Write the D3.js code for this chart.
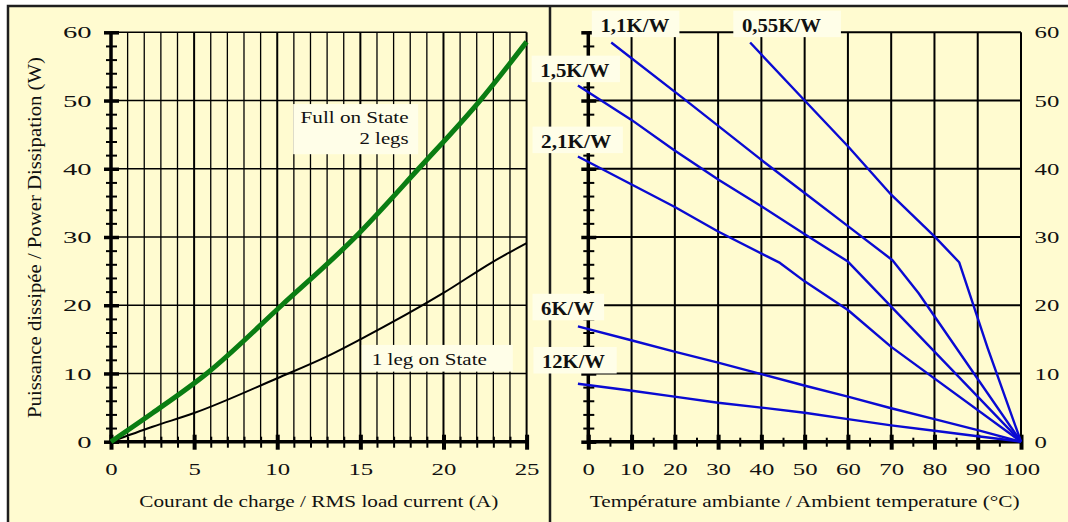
<!DOCTYPE html>
<html lang="en">
<head>
    <meta charset="UTF-8">
    <title>Power Dissipation</title>
    <script src="https://d3js.org/d3.v7.min.js"></script>
    <style>
        body { margin: 0; background: #fff; }
        svg { display: block; }
    </style>
</head>
<body>
<div id="chart"></div>
<script>
    // left panel : power vs RMS load current
    var fullOnCurrent = [0, 2.5, 5.76, 10.27, 14.7, 18.5, 22.2, 25];
    var fullOnPower   = [0, 4.2, 10, 20, 30, 40, 50, 58.6];
    var oneLegCurrent = [0, 2.5, 5, 10, 13, 15, 20, 23, 25];
    var oneLegPower   = [0, 2.2, 4.2, 9.3, 12.5, 15.0, 21.8, 26.4, 29.1];

    // right panel : power vs ambient temperature, one line per heatsink
    var rthNames = ["0,55K/W", "1,1K/W", "1,5K/W", "2,1K/W", "6K/W", "12K/W"];
    var rthTemp = [
        [37.4, 50, 60, 70, 80, 85.7, 92.3, 100],
        [5.3, 22.4, 40, 50.3, 60, 70.3, 76.3, 100],
        [-2.4, 9.9, 19.7, 30.1, 40, 50.3, 60, 100],
        [-2.4, 20, 30, 44.3, 50, 60, 70, 100],
        [-2.4, 9.7, 19.9, 30, 40, 50.1, 60, 70, 80, 90, 100],
        [-2.4, 9.7, 19.9, 30, 40, 50, 60, 70, 80, 90, 100]
    ];
    var rthPower = [
        [58.5, 50, 43.3, 36.2, 30.1, 26.3, 13.7, 0],
        [58.5, 50.1, 41.3, 36.3, 31.6, 26.6, 21.8, 0],
        [52.2, 47.2, 42.8, 38.4, 34.5, 30.3, 26.4, 0],
        [41.8, 34.4, 30.8, 26.2, 23.5, 19.3, 13.9, 0],
        [16.9, 14.9, 13.2, 11.6, 9.9, 8.2, 6.6, 4.9, 3.3, 1.7, 0],
        [8.5, 7.5, 6.6, 5.7, 5.0, 4.25, 3.3, 2.4, 1.6, 0.8, 0]
    ];

    // tick values
    var powerTicks = [0, 10, 20, 30, 40, 50, 60];
    var currentTicks = [0, 5, 10, 15, 20, 25];
    var tempTicks = [0, 10, 20, 30, 40, 50, 60, 70, 80, 90, 100];

    var W = 1068, H = 522;
    var serif = "'Liberation Serif', 'Times New Roman', Times, serif";
    var bg = "#fffbd0", boxFill = "#fffee8";

    var svg = d3.select("#chart").append("svg")
        .attr("width", W).attr("height", H);

    svg.append("rect").attr("x", 8).attr("y", 6).attr("width", W - 8).attr("height", H - 6).attr("fill", bg);

    var xL = d3.scaleLinear().domain([0, 25]).range([111, 526.6]);
    var xR = d3.scaleLinear().domain([0, 100]).range([588.3, 1021]);
    var y = d3.scaleLinear().domain([0, 60]).range([441.7, 32.3]);

    // the scan is stretched sideways : force text widths
    function fit(sel, len) {
        sel.attr("textLength", len).attr("lengthAdjust", "spacingAndGlyphs");
    }

    // grids
    var grid = svg.append("g").attr("stroke", "#000");
    grid.selectAll(".vl").data(d3.range(1, 26)).enter().append("line")
        .attr("x1", d => xL(d)).attr("x2", d => xL(d))
        .attr("y1", y(0)).attr("y2", y(60))
        .attr("stroke-width", d => d % 5 === 0 ? 2 : 1.3);
    grid.selectAll(".hl").data(powerTicks.slice(1)).enter().append("line")
        .attr("x1", xL(0)).attr("x2", xL(25))
        .attr("y1", d => y(d)).attr("y2", d => y(d))
        .attr("stroke-width", 1.5);
    grid.selectAll(".vr").data(tempTicks.slice(1)).enter().append("line")
        .attr("x1", d => xR(d)).attr("x2", d => xR(d))
        .attr("y1", y(0)).attr("y2", y(60))
        .attr("stroke-width", 2);
    grid.selectAll(".hr").data(powerTicks.slice(1)).enter().append("line")
        .attr("x1", xR(0)).attr("x2", xR(100))
        .attr("y1", d => y(d)).attr("y2", d => y(d))
        .attr("stroke-width", 2);

    // frame and divider
    svg.append("path").attr("d", "M8," + H + "V6H" + W + "M550,6V" + H)
        .attr("fill", "none").attr("stroke", "#1e1e1e").attr("stroke-width", 2.5);

    // axes helpers
    function ticksAcross(g, vertical, a, b, w) {
        g.select(".domain").remove();
        g.selectAll(".tick line")
            .attr(vertical ? "x1" : "y1", a).attr(vertical ? "x2" : "y2", b)
            .attr("stroke", "#000").attr("stroke-width", w);
    }
    function styleText(g, perChar) {
        g.attr("font-family", serif).attr("font-size", 17.5);
        g.selectAll(".tick text").attr("fill", "#111").each(function(d) {
            fit(d3.select(this), String(d).length * perChar);
        });
    }

    // left panel y axis
    svg.append("g").attr("transform", "translate(" + xL(0) + ",0)")
        .call(d3.axisLeft(y).tickValues(d3.range(0, 61, 2)).tickSize(0).tickFormat(""))
        .call(g => ticksAcross(g, true, -5, 6, 2));
    svg.append("g").attr("transform", "translate(" + xL(0) + ",0)")
        .call(d3.axisLeft(y).tickValues(powerTicks).tickSize(0).tickPadding(19.5))
        .call(g => ticksAcross(g, true, -7, 8, 3.5))
        .call(g => styleText(g, 14.3));

    // left panel x axis
    svg.append("g").attr("transform", "translate(0," + y(0) + ")")
        .call(d3.axisBottom(xL).tickValues(d3.range(0, 26)).tickSize(0).tickFormat(""))
        .call(g => ticksAcross(g, false, -5, 6, 2));
    svg.append("g").attr("transform", "translate(0," + y(0) + ")")
        .call(d3.axisBottom(xL).tickValues(currentTicks).tickSize(0))
        .call(g => ticksAcross(g, false, -7, 8, 4))
        .call(g => g.selectAll(".tick text").attr("y", 33.3).attr("dy", 0))
        .call(g => styleText(g, 12.4));

    // right panel y axis (ticks at left, labels at right)
    svg.append("g").attr("transform", "translate(" + xR(0) + ",0)")
        .call(d3.axisLeft(y).tickValues(d3.range(0, 61, 2)).tickSize(0).tickFormat(""))
        .call(g => ticksAcross(g, true, -5, 6, 2));
    svg.append("g").attr("transform", "translate(" + xR(0) + ",0)")
        .call(d3.axisLeft(y).tickValues(powerTicks).tickSize(0).tickFormat(""))
        .call(g => ticksAcross(g, true, -7, 8, 3.5));
    svg.append("g").attr("transform", "translate(" + xR(100) + ",0)")
        .call(d3.axisRight(y).tickValues(powerTicks).tickSize(0).tickPadding(13.5))
        .call(g => g.select(".domain").remove())
        .call(g => styleText(g, 12.4));

    // right panel x axis
    svg.append("g").attr("transform", "translate(0," + y(0) + ")")
        .call(d3.axisBottom(xR).tickValues(d3.range(0, 101, 5)).tickSize(0).tickFormat(""))
        .call(g => ticksAcross(g, false, -4, 5, 2));
    svg.append("g").attr("transform", "translate(0," + y(0) + ")")
        .call(d3.axisBottom(xR).tickValues(tempTicks).tickSize(0))
        .call(g => ticksAcross(g, false, -7, 8, 4))
        .call(g => g.selectAll(".tick text").attr("y", 33.3).attr("dy", 0))
        .call(g => styleText(g, 12.4));

    // axis lines
    svg.append("path")
        .attr("d", "M" + xL(0) + "," + y(60) + "V" + y(0) + "H" + xL(25) +
                   "M" + xR(0) + "," + y(60) + "V" + y(0) + "H" + xR(100))
        .attr("fill", "none").attr("stroke", "#000").attr("stroke-width", 3.5);

    // axis titles
    function title(x, yy, txt, len, size, rot) {
        var t = svg.append("text")
            .attr("transform", "translate(" + x + "," + yy + ")" + (rot ? " rotate(-90)" : ""))
            .attr("text-anchor", "middle").attr("font-family", serif).attr("font-size", size)
            .attr("fill", "#111").text(txt);
        fit(t, len);
    }
    title((xL(0) + xL(25)) / 2, 506.7, "Courant de charge / RMS load current (A)", 359, 17.5);
    title((xR(0) + xR(100)) / 2, 506.7, "Température ambiante / Ambient temperature (°C)", 430, 17.5);
    title(41, (y(0) + y(60)) / 2 + 0.5, "Puissance dissipée / Power Dissipation (W)", 361, 18.5, true);

    // left curves
    var lineL = d3.line().x(d => xL(d[0])).y(d => y(d[1])).curve(d3.curveMonotoneX);
    svg.append("path").datum(d3.zip(oneLegCurrent, oneLegPower))
        .attr("d", lineL).attr("fill", "none").attr("stroke", "#000").attr("stroke-width", 2);
    svg.append("path").datum(d3.zip(fullOnCurrent, fullOnPower))
        .attr("d", lineL).attr("fill", "none").attr("stroke", "#0a7d12").attr("stroke-width", 5);

    // left annotations (anchor in data units, widths in px)
    var ann = svg.append("g").attr("font-family", serif).attr("fill", "#111").attr("font-size", 16);
    ann.append("rect").attr("fill", boxFill)
        .attr("x", xL(17.9) - 107 - 8.4).attr("y", y(46.7) - 19)
        .attr("width", 107 + 18).attr("height", y(43.6) - y(46.7) + 29);
    fit(ann.append("text").attr("x", xL(17.9)).attr("y", y(46.7)).attr("text-anchor", "end")
        .text("Full on State"), 108);
    fit(ann.append("text").attr("x", xL(17.9)).attr("y", y(43.6)).attr("text-anchor", "end")
        .text("2 legs"), 49);

    ann.append("rect").attr("fill", boxFill)
        .attr("x", xL(15.69) - 10).attr("y", y(11.25) - 20)
        .attr("width", 114 + 37).attr("height", 26.7);
    fit(ann.append("text").attr("x", xL(15.69)).attr("y", y(11.25)).text("1 leg on State"), 115);

    // right lines
    var lineR = d3.line().x(d => xR(d[0])).y(d => y(d[1]));
    svg.append("g").selectAll("path").data(rthNames).enter().append("path")
        .attr("d", (d, i) => lineR(d3.zip(rthTemp[i], rthPower[i])))
        .attr("fill", "none").attr("stroke", "#0a0ad2").attr("stroke-width", 2.4)
        .attr("stroke-linejoin", "round");

    // heatsink labels : text start, baseline (data units), text width, right pad
    var labelAt = {
        "0,55K/W": [35.5, 60.1, 79, 20],
        "1,1K/W": [2.8, 60.1, 69, 10],
        "1,5K/W": [-11.1, 53.5, 69, 10.7],
        "2,1K/W": [-10.9, 43.1, 70, 11.7],
        "6K/W": [-10.9, 18.6, 53, 10],
        "12K/W": [-10.7, 10.8, 63, 11.7]
    };
    var lab = svg.append("g").attr("font-family", serif).attr("font-weight", "bold")
        .attr("font-size", 18).attr("fill", "#111");
    rthNames.forEach(function(name) {
        var p = labelAt[name];
        lab.append("rect").attr("fill", boxFill)
            .attr("x", xR(p[0]) - 8.6).attr("y", y(p[1]) - 21)
            .attr("width", p[2] + 8.6 + p[3]).attr("height", 26.5);
        fit(lab.append("text").attr("x", xR(p[0])).attr("y", y(p[1])).text(name), p[2]);
    });
</script>
</body>
</html>
